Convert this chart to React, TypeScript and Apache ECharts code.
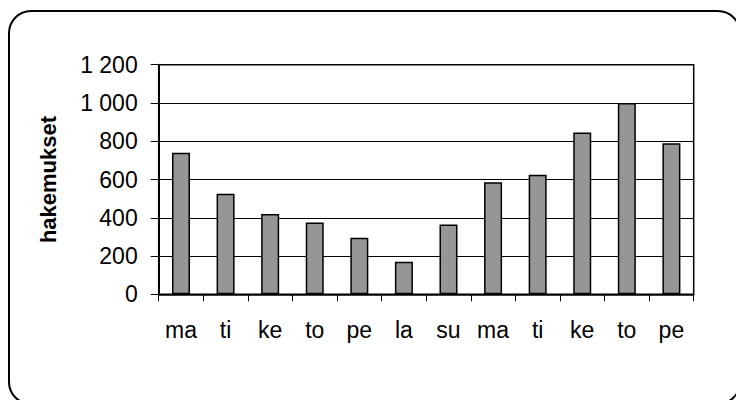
import React, { useEffect, useRef } from "react";
import * as echarts from "echarts";

const categories = ["ma", "ti", "ke", "to", "pe", "la", "su", "ma", "ti", "ke", "to", "pe"];
const values = [740, 525, 420, 375, 295, 170, 365, 585, 625, 845, 1000, 790];
const yAxisName = "hakemukset";

const fontFamily = "'Liberation Sans', Arial, sans-serif";

export default function App() {
  const ref = useRef<HTMLDivElement>(null);
  useEffect(() => {
    if (!ref.current) return;
    const chart = echarts.init(ref.current, null, { renderer: "svg" });
    chart.setOption({
      animation: false,
      backgroundColor: "#fff",
      grid: {
        left: 158.7,
        top: 64.7,
        right: 42.3,
        bottom: 105.7,
        show: true,
        borderColor: "#000",
        borderWidth: 1.5,
        backgroundColor: "transparent",
      },
      graphic: [
        {
          type: "rect",
          shape: { x: 9, y: 11, width: 731, height: 393, r: 22 },
          style: { fill: "none", stroke: "#000", lineWidth: 2 },
          silent: true,
        },
      ],
      xAxis: {
        type: "category",
        data: categories,
        axisLine: { show: true, lineStyle: { color: "#000", width: 1.5 } },
        axisTick: { show: true, length: 7, lineStyle: { color: "#000", width: 1 } },
        axisLabel: {
          color: "#000",
          fontSize: 23,
          fontFamily,
          margin: 24,
        },
        splitLine: { show: false },
      },
      yAxis: {
        type: "value",
        min: 0,
        max: 1200,
        interval: 200,
        name: yAxisName,
        nameLocation: "middle",
        nameGap: 99,
        nameRotate: 90,
        nameTextStyle: {
          color: "#000",
          fontSize: 22,
          fontWeight: "bold",
          fontFamily,
        },
        axisLine: { show: true, lineStyle: { color: "#000", width: 2 } },
        axisTick: { show: true, length: 8, lineStyle: { color: "#000", width: 1 } },
        axisLabel: {
          color: "#000",
          fontSize: 23,
          fontFamily,
          margin: 21,
          formatter: (v: number) => String(v).replace(/\B(?=(\d{3})+(?!\d))/g, " "),
        },
        splitLine: { show: true, lineStyle: { color: "#000", width: 1 } },
      },
      series: [
        {
          type: "bar",
          data: values,
          barWidth: 18,
          itemStyle: { color: "#969696", borderColor: "#000", borderWidth: 1.5 },
        },
      ],
    });
    return () => chart.dispose();
  }, []);
  return (
    <div
      ref={ref}
      style={{ position: "absolute", left: 0, top: 0, width: 736, height: 400 }}
    />
  );
}
